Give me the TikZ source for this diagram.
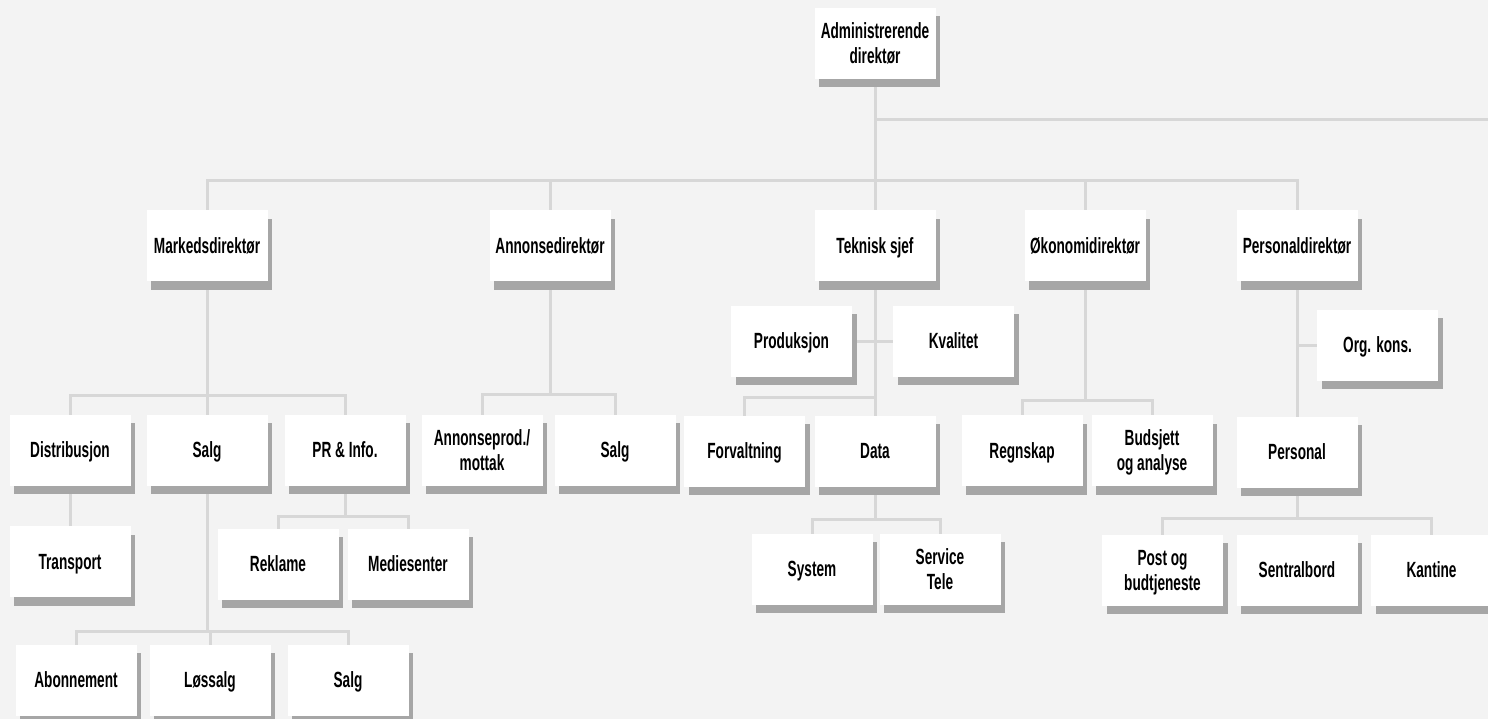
\documentclass[tikz,border=0pt]{standalone}
\usepackage{fontspec}
\setmainfont[FakeStretch=0.62]{Liberation Sans}
\usetikzlibrary{shadows}
\definecolor{bgcol}{HTML}{F3F3F3}
\definecolor{linecol}{HTML}{D7D7D7}
\definecolor{shadcol}{HTML}{A6A6A6}
\pgfdeclarelayer{bg}
\pgfdeclarelayer{lines}
\pgfsetlayers{bg,lines,main}
\begin{document}
\begin{tikzpicture}[x=1pt,y=-1pt,
  box/.style={fill=white, minimum width=121pt, minimum height=71pt, inner sep=0pt,
    align=center, font=\fontsize{22}{25}\selectfont\bfseries, text depth=0pt,
    drop shadow={shadow xshift=4.5pt, shadow yshift=-8.5pt, fill=shadcol, opacity=1}},
  conn/.style={draw=linecol, line width=3pt}]
\useasboundingbox (0,0) rectangle (1488,719);
\begin{pgfonlayer}{bg}
\fill[bgcol] (0,0) rectangle (1488,719);
\end{pgfonlayer}
% top
\node[box] (adm) at (875,43.5) {Administrerende\\direktør};
% level 1
\node[box] (mark) at (207,246) {Markedsdirektør};
\node[box] (ann) at (550,246) {Annonsedirektør};
\node[box] (tek) at (875,246) {Teknisk sjef};
\node[box] (oko) at (1085,246) {Økonomidirektør};
\node[box] (persd) at (1297,246) {Personaldirektør};
% marked
\node[box] (dist) at (70,450) {Distribusjon};
\node[box] (salg1) at (207,450) {Salg};
\node[box] (pr) at (345,450) {PR \& Info.};
\node[box] (trans) at (70,561.5) {Transport};
\node[box] (rek) at (278,564) {Reklame};
\node[box] (med) at (408,564) {Mediesenter};
\node[box] (abon) at (76,680) {Abonnement};
\node[box] (los) at (210,680) {Løssalg};
\node[box] (salg3) at (348,680) {Salg};
% annonse
\node[box] (aprod) at (482,450) {Annonseprod./\\mottak};
\node[box] (salg2) at (615,450) {Salg};
% teknisk
\node[box] (prod) at (791.5,341) {Produksjon};
\node[box] (kval) at (953.5,341) {Kvalitet};
\node[box] (forv) at (744.5,451) {Forvaltning};
\node[box] (data) at (875,451) {Data};
\node[box] (sys) at (812,569) {System};
\node[box] (serv) at (940,569) {Service\\Tele};
% okonomi
\node[box] (regn) at (1022,450.5) {Regnskap};
\node[box] (buds) at (1152,450.5) {Budsjett\\og analyse};
% personal
\node[box] (org) at (1377.5,345) {Org. kons.};
\node[box] (pers) at (1297,452) {Personal};
\node[box] (post) at (1162.5,570) {Post og\\budtjeneste};
\node[box] (sent) at (1297,570) {Sentralbord};
\node[box] (kant) at (1431.5,570) {Kantine};
% bus coordinates
\coordinate (offright) at (1488,120);
\coordinate (busA) at (0,181);
\coordinate (busM) at (0,395);
\coordinate (busP) at (0,516);
\coordinate (busS) at (0,631);
\coordinate (busN) at (0,394);
\coordinate (busT) at (0,397);
\coordinate (busD) at (0,519);
\coordinate (busO) at (0,400);
\coordinate (busQ) at (0,518);
\begin{pgfonlayer}{lines}
\draw[conn] (adm.center) |- (offright);
\draw[conn] (adm.center) -- (adm.center |- busA);
\draw[conn] (mark.center) -- (mark.center |- busA) -| (persd.center);
\draw[conn] (ann.center) -- (ann.center |- busA);
\draw[conn] (tek.center) -- (tek.center |- busA);
\draw[conn] (oko.center) -- (oko.center |- busA);
% marked
\draw[conn] (mark.center) -- (salg1.center);
\draw[conn] (dist.center) -- (dist.center |- busM) -| (pr.center);
\draw[conn] (dist.center) -- (trans.center);
\draw[conn] (pr.center) -- (pr.center |- busP);
\draw[conn] (rek.center) -- (rek.center |- busP) -| (med.center);
\draw[conn] (salg1.center) -- (salg1.center |- busS);
\draw[conn] (abon.center) -- (abon.center |- busS) -| (salg3.center);
\draw[conn] (los.center) -- (los.center |- busS);
% annonse
\draw[conn] (ann.center) -- (ann.center |- busN);
\draw[conn] (aprod.center) -- (aprod.center |- busN) -| (salg2.center);
% teknisk
\draw[conn] (tek.center) -- (data.center);
\draw[conn] (prod.center) -- (kval.center);
\draw[conn] (forv.center) -- (forv.center |- busT) -- (data.center |- busT);
\draw[conn] (data.center) -- (data.center |- busD);
\draw[conn] (sys.center) -- (sys.center |- busD) -| (serv.center);
% okonomi
\draw[conn] (oko.center) -- (oko.center |- busO);
\draw[conn] (regn.center) -- (regn.center |- busO) -| (buds.center);
% personal
\draw[conn] (persd.center) -- (pers.center);
\draw[conn] (org.center) -- (persd.center |- org.center);
\draw[conn] (pers.center) -- (pers.center |- busQ);
\draw[conn] (post.center) -- (post.center |- busQ) -| (kant.center);
\end{pgfonlayer}
\end{tikzpicture}
\end{document}
